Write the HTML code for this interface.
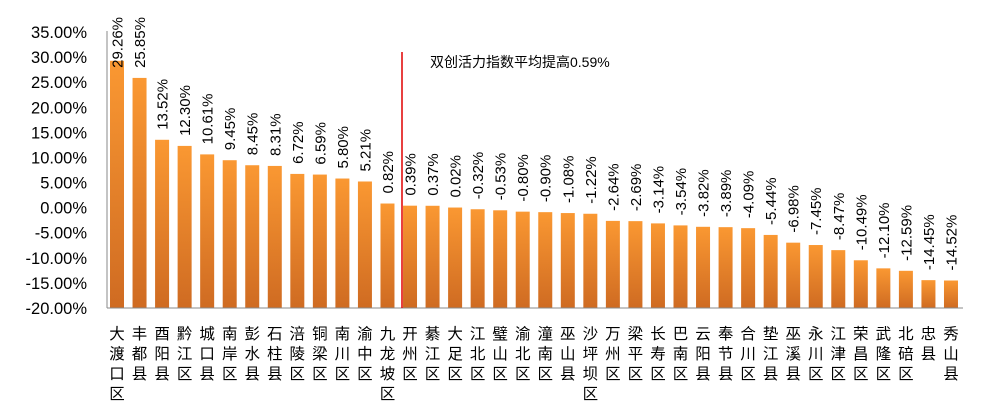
<!DOCTYPE html>
<html><head><meta charset="utf-8"><style>
body{margin:0;background:#fff;}
svg text{font-family:"Liberation Sans","Noto Sans CJK SC",sans-serif;fill:#000;}
</style></head><body>
<svg id="chart" width="990" height="407" xmlns="http://www.w3.org/2000/svg">
<defs><linearGradient id="g" x1="0" y1="0" x2="0" y2="1"><stop offset="0" stop-color="#fa9832"/><stop offset="1" stop-color="#cf6b22"/></linearGradient></defs>
</svg>
<script>
const categories=["大渡口区","丰都县","酉阳县","黔江区","城口县","南岸区","彭水县","石柱县","涪陵区","铜梁区","南川区","渝中区","九龙坡区","开州区","綦江区","大足区","江北区","璧山区","渝北区","潼南区","巫山县","沙坪坝区","万州区","梁平区","长寿区","巴南区","云阳县","奉节县","合川区","垫江县","巫溪县","永川区","江津区","荣昌区","武隆区","北碚区","忠县","秀山县"];
const values=[29.26,25.85,13.52,12.30,10.61,9.45,8.45,8.31,6.72,6.59,5.80,5.21,0.82,0.39,0.37,0.02,-0.32,-0.53,-0.80,-0.90,-1.08,-1.22,-2.64,-2.69,-3.14,-3.54,-3.82,-3.89,-4.09,-5.44,-6.98,-7.45,-8.47,-10.49,-12.10,-12.59,-14.45,-14.52];
const yTicks=[35,30,25,20,15,10,5,0,-5,-10,-15,-20];
const yMin=-20,yMax=35,yTop=32,yBot=308;
const svg=document.getElementById('chart');
const NS='http://www.w3.org/2000/svg';
function y(v){return yBot-(v-yMin)/(yMax-yMin)*(yBot-yTop);}
function x(i){return 117+i*22.54;}
function mk(t,a,p){const e=document.createElementNS(NS,t);for(const k in a)e.setAttribute(k,a[k]);(p||svg).appendChild(e);return e;}
yTicks.forEach(v=>{const t=mk('text',{x:87,y:y(v)+6,'text-anchor':'end','font-size':'16.5'});


t.textContent=v.toFixed(2)+'%';});
values.forEach((v,i)=>{
const r=mk('rect',{x:x(i)-7,y:y(v),width:14,height:yBot-y(v),fill:'url(#g)'});


const lx=x(i)+5.5;
const t=mk('text',{x:lx,y:0,'font-size':'15'});


t.textContent=v.toFixed(2)+'%';
const w=t.getComputedTextLength();
const ly=Math.max(y(v)-10,17+w);
t.setAttribute('y',ly);
t.setAttribute('transform','rotate(-90 '+lx+' '+ly+')');
const cat=categories[i];
for(let k=0;k<cat.length;k++){const c=mk('text',{x:x(i),y:339+k*20,'text-anchor':'middle','font-size':'15.5'});


c.textContent=cat[k];}
});
const ax=mk('line',{x1:107,y1:31,x2:107,y2:308,stroke:'#888','stroke-width':1});


const bx=mk('line',{x1:107,y1:308,x2:963,y2:308,stroke:'#888','stroke-width':1});


const rl=mk('line',{x1:402,y1:52,x2:402,y2:308,stroke:'#e00000','stroke-width':1.5});


const an=mk('text',{x:430,y:67,'font-size':'14'});


an.textContent='双创活力指数平均提高0.59%';
</script>
</body></html>
